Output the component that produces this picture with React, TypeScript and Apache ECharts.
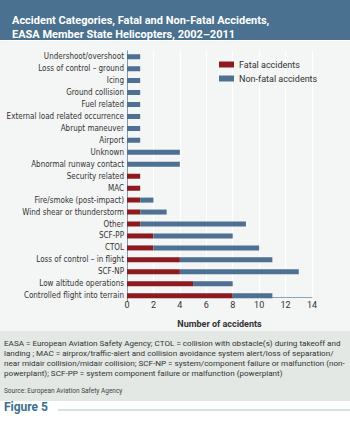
import React, { useEffect, useRef } from "react";
import * as echarts from "echarts";

const categories = [
  "Undershoot/overshoot",
  "Loss of control – ground",
  "Icing",
  "Ground collision",
  "Fuel related",
  "External load related occurrence",
  "Abrupt maneuver",
  "Airport",
  "Unknown",
  "Abnormal runway contact",
  "Security related",
  "MAC",
  "Fire/smoke (post-impact)",
  "Wind shear or thunderstorm",
  "Other",
  "SCF-PP",
  "CTOL",
  "Loss of control – in flight",
  "SCF-NP",
  "Low altitude operations",
  "Controlled flight into terrain",
];
const fatal = [0, 0, 0, 0, 0, 0, 0, 0, 0, 0, 1, 1, 1, 1, 1, 2, 2, 4, 4, 5, 8];
const nonFatal = [1, 1, 1, 1, 1, 1, 1, 1, 4, 4, 0, 0, 1, 2, 8, 6, 8, 7, 9, 3, 3];
const seriesNames = ["Fatal accidents", "Non-fatal accidents"];

const titleText = "Accident Categories, Fatal and Non-Fatal Accidents,\nEASA Member State Helicopters, 2002–2011";
const xAxisName = "Number of accidents";
const noteText =
  "EASA = European Aviation Safety Agency; CTOL = collision with obstacle(s) during takeoff and\n" +
  "landing ; MAC = airprox/traffic-alert and collision avoidance system alert/loss of separation/\n" +
  "near midair collision/midair collision; SCF-NP = system/component failure or malfunction (non-\n" +
  "powerplant); SCF-PP = system component failure or malfunction (powerplant)";
const sourceText = "Source: European Aviation Safety Agency";
const figureText = "Figure 5";

const RED = "#8c1a1f";
const BLUE = "#4e7193";
const NARROW = "'Liberation Sans Narrow', 'DejaVu Sans Condensed', Roboto, sans-serif";
const SANS = "Roboto, 'Open Sans', sans-serif";

export default function App() {
  const ref = useRef<HTMLDivElement>(null);
  useEffect(() => {
    document.body.style.margin = "0";
    const chart = echarts.init(ref.current!, null, { renderer: "svg" });
    chart.setOption({
      animation: false,
      backgroundColor: "#ffffff",
      title: {
        text: titleText,
        left: 7,
        top: 8,
        textStyle: {
          color: "#ffffff",
          fontSize: 11,
          lineHeight: 14,
          fontWeight: "bold",
          fontFamily: SANS,
        },
        z: 10,
      },
      graphic: [
        { type: "rect", z: -10, shape: { x: 0, y: 0, width: 350, height: 40 }, style: { fill: "#4b7190" } },
        { type: "rect", z: -10, shape: { x: 0, y: 41, width: 350, height: 290 }, style: { fill: "#f4f5f5" } },
        { type: "rect", z: -10, shape: { x: 0, y: 331, width: 350, height: 70 }, style: { fill: "#e3e8e5" } },
        {
          type: "text",
          left: 4,
          top: 338,
          style: { text: noteText, fill: "#333333", fontSize: 8.1, lineHeight: 10, fontFamily: SANS },
        },
        {
          type: "text",
          left: 4,
          top: 387,
          style: { text: sourceText, fill: "#444444", fontSize: 6.5, fontFamily: SANS },
        },
        {
          type: "text",
          left: 4,
          top: 401,
          style: { text: figureText, fill: "#3a6f90", fontSize: 12, fontWeight: "bold", fontFamily: SANS },
        },
        { type: "line", shape: { x1: 58, y1: 410, x2: 350, y2: 410 }, style: { stroke: "#a6c5ca", lineWidth: 1 } },
      ],
      legend: {
        orient: "vertical",
        left: 214,
        top: 55,
        itemWidth: 15,
        itemHeight: 6,
        itemGap: 5,
        icon: "rect",
        textStyle: { fontSize: 9, color: "#333333", fontFamily: SANS },
        data: seriesNames,
      },
      grid: { left: 127, right: 38, top: 50.7, bottom: 122.3, containLabel: false },
      xAxis: {
        type: "value",
        min: 0,
        max: 14,
        interval: 2,
        offset: -4,
        name: xAxisName,
        nameLocation: "middle",
        nameGap: 22,
        nameTextStyle: { fontSize: 9, fontWeight: "bold", color: "#333333", fontFamily: SANS },
        axisLine: { show: true, lineStyle: { color: "#8ea5b8", width: 1 } },
        axisTick: { show: false },
        axisLabel: { fontSize: 9, color: "#333333", margin: 3, fontFamily: SANS },
        splitLine: { show: true, lineStyle: { color: "#ffffff", width: 1 } },
      },
      yAxis: {
        type: "category",
        inverse: true,
        data: categories,
        axisLine: { show: true, lineStyle: { color: "#7f9ab0", width: 1 } },
        axisTick: { show: false },
        axisLabel: { fontSize: 8, color: "#333333", margin: 3, fontFamily: NARROW },
      },
      series: [
        {
          name: seriesNames[0],
          type: "bar",
          stack: "total",
          data: fatal,
          barWidth: 5,
          itemStyle: { color: RED },
        },
        {
          name: seriesNames[1],
          type: "bar",
          stack: "total",
          data: nonFatal,
          barWidth: 5,
          itemStyle: { color: BLUE },
        },
      ],
    });
    return () => chart.dispose();
  }, []);
  return <div ref={ref} style={{ width: 350, height: 424 }} />;
}
